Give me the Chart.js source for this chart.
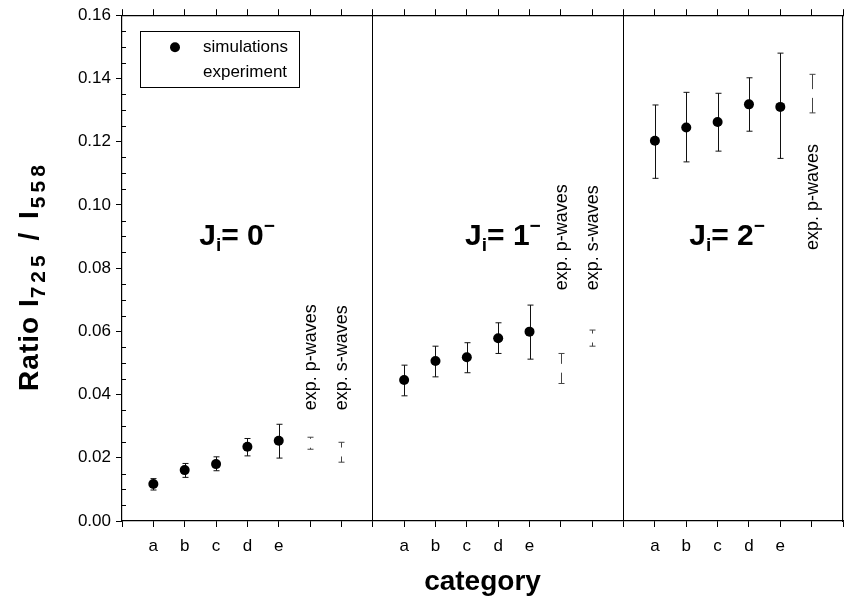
<!DOCTYPE html>
<html>
<head>
<meta charset="utf-8">
<script src="https://cdn.jsdelivr.net/npm/chart.js@4.4.0/dist/chart.umd.min.js"></script>
<style>
html,body{margin:0;padding:0;background:#fff}
#wrap{position:relative;width:846px;height:602px}
</style>
</head>
<body>
<div id="wrap"><canvas id="c" width="846" height="602"></canvas></div>
<script>
const FONT='"Liberation Sans", Arial, Helvetica, sans-serif';

// categories within each J_i panel, panel offsets on the x axis
const CATS=['a','b','c','d','e'];
const PANEL_START=[0,8,16];
const PANEL_SPIN=['0','1','2'];
const X_MAX=23;
const Y_TICKS=[0,0.02,0.04,0.06,0.08,0.10,0.12,0.14,0.16];

// simulations (filled dots) with error range
const SIM_X=[1,2,3,4,5, 9,10,11,12,13, 17,18,19,20,21];
const SIM_Y=[0.0117,0.0161,0.0180,0.0235,0.0254, 0.0446,0.0506,0.0518,0.0578,0.0599, 0.1203,0.1245,0.1262,0.1318,0.1310];
const SIM_LO=[0.0098,0.0138,0.0159,0.0206,0.0199, 0.0396,0.0456,0.0469,0.0530,0.0512, 0.1084,0.1136,0.1170,0.1233,0.1147];
const SIM_HI=[0.0134,0.0182,0.0203,0.0261,0.0306, 0.0493,0.0553,0.0564,0.0627,0.0683, 0.1316,0.1356,0.1353,0.1402,0.1480];

// experiment (open markers) with error range
const EXP_X=[6,7,14,15,22];
const EXP_Y=[0.0246,0.0218,0.0483,0.0579,0.1352];
const EXP_LO=[0.0227,0.0186,0.0435,0.0553,0.1291];
const EXP_HI=[0.0265,0.0249,0.0530,0.0604,0.1413];
const EXP_NAMES=['exp. p-waves','exp. s-waves','exp. p-waves','exp. s-waves','exp. p-waves'];

const pts=(xs,ys,lo,hi)=>xs.map((x,i)=>({x,y:ys[i],lo:lo[i],hi:hi[i]}));

function catLabel(v){
  for(const p of PANEL_START){const k=v-p-1;if(k>=0&&k<CATS.length)return CATS[k];}
  return '';
}

/* error bars go under the markers */
const errorBars={id:'errorBars',beforeDatasetsDraw(chart){
  const {ctx,scales:{x,y}}=chart;
  ctx.save();
  chart.data.datasets.forEach(ds=>{
    ctx.strokeStyle=ds.errColor;ctx.lineWidth=1;
    ds.data.forEach(p=>{
      const px=Math.round(x.getPixelForValue(p.x))+0.5;
      const lo=y.getPixelForValue(p.lo),hi=y.getPixelForValue(p.hi);
      ctx.beginPath();
      ctx.moveTo(px,lo);ctx.lineTo(px,hi);
      ctx.moveTo(px-3,lo);ctx.lineTo(px+3,lo);
      ctx.moveTo(px-3,hi);ctx.lineTo(px+3,hi);
      ctx.stroke();
    });
  });
  ctx.restore();
}};

// a run of [text, size, dy, spacing] pieces, left to right on one baseline
function setPiece(ctx,s,sp){ctx.font=`bold ${s}px ${FONT}`;ctx.letterSpacing=(sp||0)+'px';}
function runWidth(ctx,parts){
  const w=parts.reduce((w,[t,s,,sp])=>{setPiece(ctx,s,sp);return w+ctx.measureText(t).width;},0);
  ctx.letterSpacing='0px';
  return w;
}
function drawRun(ctx,parts,x0,y0){
  let x=x0;
  parts.forEach(([t,s,dy,sp])=>{setPiece(ctx,s,sp);ctx.fillText(t,x,y0+dy);x+=ctx.measureText(t).width;});
  ctx.letterSpacing='0px';
}

/* titles, panel labels, legend box, minor ticks */
const decor={id:'decor',afterDraw(chart){
  const {ctx,chartArea:ca,scales:{x,y}}=chart;
  ctx.save();
  ctx.fillStyle='#000';ctx.strokeStyle='#000';ctx.textBaseline='alphabetic';ctx.textAlign='left';

  // minor ticks on the left axis
  ctx.lineWidth=1;ctx.beginPath();
  for(let v=0.005;v<0.16;v+=0.005){
    if(Math.abs(v/0.02-Math.round(v/0.02))<1e-6)continue;
    const py=Math.round(y.getPixelForValue(v))+0.5;
    ctx.moveTo(ca.left,py);ctx.lineTo(ca.left+4,py);
  }
  ctx.stroke();

  // y title with subscripts
  const yt=[['Ratio I',28,0,1],['725',21,7,4],[' / I',28,0,3],['558',21,7,4]];
  const w=runWidth(ctx,yt);
  ctx.save();
  ctx.translate(38,276);ctx.rotate(-Math.PI/2);
  drawRun(ctx,yt,-w/2,0);
  ctx.restore();

  // x title
  ctx.font=`bold 28px ${FONT}`;ctx.textAlign='center';ctx.textBaseline='middle';
  ctx.fillText('category',(ca.left+ca.right)/2,582);
  ctx.textAlign='left';ctx.textBaseline='alphabetic';

  // J_i panel labels
  const labelX=[3.67,12.15,19.3];
  PANEL_SPIN.forEach((s,i)=>{
    const parts=[['J',30,0],['i',19,6],['= '+s,30,0],['\u2212',19,-13]];
    const lw=runWidth(ctx,parts);
    drawRun(ctx,parts,x.getPixelForValue(labelX[i])-lw/2,y.getPixelForValue(0.0873));
  });

  // rotated experiment labels
  const expBase=[0.035,0.035,0.073,0.073,0.0857];
  ctx.font=`18px ${FONT}`;
  EXP_NAMES.forEach((t,i)=>{
    ctx.save();
    ctx.translate(x.getPixelForValue(EXP_X[i])+6,y.getPixelForValue(expBase[i]));
    ctx.rotate(-Math.PI/2);ctx.fillText(t,0,0);
    ctx.restore();
  });

  // legend
  const lx=ca.left+18,ly=ca.top+16;
  ctx.lineWidth=1;ctx.strokeRect(Math.round(lx)+0.5,Math.round(ly)+0.5,159,56);
  ctx.beginPath();ctx.arc(lx+35,ly+16,5,0,Math.PI*2);ctx.fill();
  ctx.font=`17px ${FONT}`;ctx.textBaseline='middle';
  ctx.fillText('simulations',lx+63,ly+16);
  ctx.fillText('experiment',lx+63,ly+41);
  ctx.restore();
}};

const tickFont={family:FONT,size:17};
const noSidePad=s=>{s.paddingLeft=0;s.paddingRight=0;};
new Chart(document.getElementById('c'),{
  type:'scatter',
  data:{datasets:[
    {label:'simulations',data:pts(SIM_X,SIM_Y,SIM_LO,SIM_HI),pointRadius:5,pointBackgroundColor:'#000',pointBorderWidth:0,errColor:'#111'},
    {label:'experiment',data:pts(EXP_X,EXP_Y,EXP_LO,EXP_HI),pointRadius:4.5,pointBackgroundColor:'#fff',pointBorderWidth:0,errColor:'#444'}
  ]},
  options:{
    responsive:false,animation:false,events:[],
    layout:{autoPadding:false,padding:{right:3}},
    plugins:{legend:{display:false},tooltip:{enabled:false}},
    scales:{
      x:{type:'linear',position:'bottom',min:0,max:X_MAX,
        ticks:{stepSize:1,autoSkip:false,maxRotation:0,color:'#000',font:tickFont,padding:9,callback:v=>catLabel(v)},
        grid:{drawOnChartArea:true,lineWidth:1,tickLength:6,tickColor:'#000',
          color:c=>(c.tick&&(c.tick.value===PANEL_START[1]||c.tick.value===PANEL_START[2]))?'#000':'rgba(0,0,0,0)'},
        border:{color:'#000',width:1.2},
        afterFit:s=>{s.height=81;noSidePad(s);}},
      xTop:{type:'linear',position:'top',min:0,max:X_MAX,
        ticks:{stepSize:1,display:false},
        grid:{drawOnChartArea:false,tickLength:6,tickColor:'#000'},
        border:{color:'#000',width:1.2},
        afterFit:s=>{s.height=15;noSidePad(s);}},
      y:{type:'linear',position:'left',min:0,max:0.16,
        afterBuildTicks:s=>{s.ticks=Y_TICKS.map(v=>({value:v}));},
        ticks:{color:'#000',font:tickFont,padding:5,callback:v=>v.toFixed(2)},
        grid:{drawOnChartArea:false,tickLength:6,tickColor:'#000'},
        border:{color:'#000',width:1.2},
        afterFit:s=>{s.width=122;}},
      yRight:{type:'linear',position:'right',min:0,max:0.16,
        ticks:{display:false},grid:{drawOnChartArea:false,drawTicks:false},
        border:{color:'#000',width:1.2},
        afterFit:s=>{s.width=0;}}
    }
  },
  plugins:[errorBars,decor]
});
</script>
</body>
</html>
